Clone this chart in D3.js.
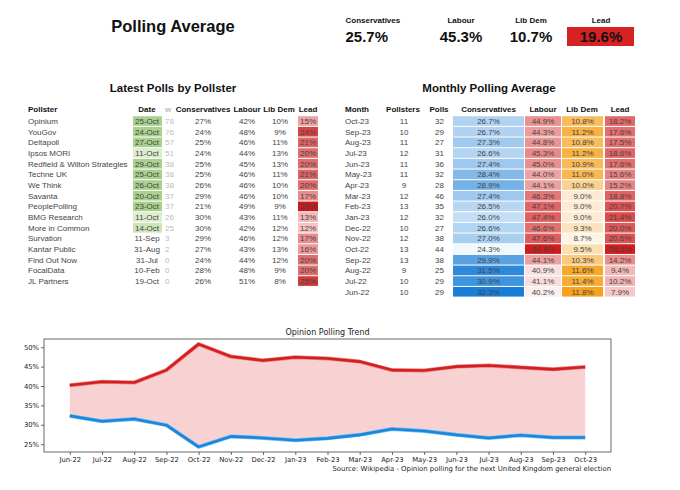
<!DOCTYPE html>
<html><head><meta charset="utf-8">
<script src="https://cdn.jsdelivr.net/npm/d3@7"></script>
<style>
body{margin:0;background:#fff;}
svg{display:block;}
.t{font-family:"Liberation Sans",Arial,sans-serif;}
.m{font-family:"DejaVu Sans",sans-serif;}
</style></head><body>
<svg id="c" width="680" height="490"></svg>
<script>
// ---- headline averages ----
const headLabels = ["Conservatives","Labour","Lib Dem","Lead"];
const headValues = [25.7,45.3,10.7,19.6];

// ---- latest polls by pollster ----
const pollsters = ["Opinium","YouGov","Deltapoll","Ipsos MORI","Redfield & Wilton Strategies","Techne UK","We Think","Savanta","PeoplePolling","BMG Research","More in Common","Survation","Kantar Public","Find Out Now","FocalData","JL Partners"];
const pollDates = ["25-Oct","24-Oct","27-Oct","11-Oct","29-Oct","25-Oct","26-Oct","20-Oct","23-Oct","11-Oct","14-Oct","11-Sep","31-Aug","31-Jul","10-Feb","19-Oct"];
const pollWeights = [78,76,57,51,38,38,38,37,37,26,25,3,2,0,0,0];
const pollCon = [27,24,25,24,25,25,26,29,21,30,30,29,27,24,28,26];
const pollLab = [42,48,46,44,45,46,46,46,49,43,42,46,43,44,48,51];
const pollLD = [10,9,11,13,13,11,10,10,9,11,12,12,13,12,9,8];
const pollLead = [15,24,21,20,20,21,20,17,28,13,12,17,16,20,20,25];

// ---- monthly polling average ----
const months = ["Oct-23","Sep-23","Aug-23","Jul-23","Jun-23","May-23","Apr-23","Mar-23","Feb-23","Jan-23","Dec-22","Nov-22","Oct-22","Sep-22","Aug-22","Jul-22","Jun-22"];
const monPollsters = [11,10,11,12,11,11,9,12,13,12,10,12,13,13,9,10,10];
const monPolls = [32,29,27,31,36,32,28,46,35,32,27,38,44,38,25,29,29];
const monCon = [26.7,26.7,27.3,26.6,27.4,28.4,28.9,27.4,26.5,26.0,26.6,27.0,24.3,29.9,31.5,30.9,32.3];
const monLab = [44.9,44.3,44.8,45.3,45.0,44.0,44.1,46.3,47.1,47.4,46.6,47.6,50.8,44.1,40.9,41.1,40.2];
const monLD = [10.8,11.2,10.8,11.2,10.9,11.0,10.0,9.0,9.0,9.0,9.3,8.7,9.5,10.3,11.6,11.4,11.8];
const monLead = [18.2,17.6,17.5,18.6,17.6,15.6,15.2,18.8,20.7,21.4,20.0,20.6,26.5,14.2,9.4,10.2,7.9];

// ---- trend chart ----
const yTicks = [25,30,35,40,45,50];

const svg = d3.select("#c");

// Header
svg.append("text").attr("class","t").attr("x",173).attr("y",32).attr("text-anchor","middle")
  .attr("font-size",16.5).attr("font-weight","bold").attr("fill","#111").text("Polling Average");
const headCx = [367,461,531,601];
svg.append("rect").attr("x",567).attr("y",27).attr("width",67).attr("height",19).attr("fill","#d62222");
headLabels.forEach((l,i)=>{
  const anchor = i===0 ? "start" : "middle";
  const xx = i===0 ? 345.5 : headCx[i];
  svg.append("text").attr("class","t").attr("x",xx).attr("y",23)
    .attr("font-size",8).attr("font-weight","bold").attr("fill","#111").attr("text-anchor",anchor).text(l);
  svg.append("text").attr("class","t").attr("x",xx).attr("y",42)
    .attr("font-size",15).attr("font-weight","bold").attr("fill","#111").attr("text-anchor",anchor)
    .text(headValues[i].toFixed(1)+"%");
});

// Row scale
const rowY0 = 121, rowH = 10.67;
const rowsL = d3.scaleLinear().domain([0,1]).range([rowY0,rowY0+rowH]);

// Left table
svg.append("text").attr("class","t").attr("x",173).attr("y",92).attr("text-anchor","middle")
  .attr("font-size",11.5).attr("font-weight","bold").attr("fill","#111").text("Latest Polls by Pollster");
const lh = [["Pollster",28,"start"],["Date",147,"middle"],["w",168,"middle"],["Conservatives",203,"middle"],["Labour",247,"middle"],["Lib Dem",279,"middle"],["Lead",308,"middle"]];
lh.forEach(h=>svg.append("text").attr("class","t").attr("x",h[1]).attr("y",112).attr("text-anchor",h[2])
  .attr("font-size",8).attr("font-weight","bold").attr("fill",h[0]==="w"?"#bbb":"#111").text(h[0]));
const green = d3.scaleLinear().domain([11,20]).range(["#dcedcf","#a9d18e"]).clamp(true);
const leadL = d3.scaleLinear().domain([12,28]).range(["#f6c3c3","#c81a1a"]);
pollsters.forEach((p,i)=>{
  const yc = rowsL(i), yb = yc+3;
  const [day,mon] = pollDates[i].split("-");
  if (mon==="Oct" && pollWeights[i] > 5) svg.append("rect").attr("x",133).attr("y",yc-4.8).attr("width",29).attr("height",rowH-1).attr("fill",green(+day));
  svg.append("rect").attr("x",298).attr("y",yc-4.8).attr("width",20).attr("height",rowH-1).attr("fill",leadL(pollLead[i]));
  const g = svg.append("g").attr("class","t").attr("font-size",8).attr("fill","#444");
  g.append("text").attr("x",28).attr("y",yb).text(p);
  g.append("text").attr("x",147).attr("y",yb).attr("text-anchor","middle").text(pollDates[i]);
  g.append("text").attr("x",165).attr("y",yb).attr("fill","#bbb").text(pollWeights[i]);
  g.append("text").attr("x",203).attr("y",yb).attr("text-anchor","middle").text(pollCon[i]+"%");
  g.append("text").attr("x",247).attr("y",yb).attr("text-anchor","middle").text(pollLab[i]+"%");
  g.append("text").attr("x",280).attr("y",yb).attr("text-anchor","middle").text(pollLD[i]+"%");
  g.append("text").attr("x",308).attr("y",yb).attr("text-anchor","middle").text(pollLead[i]+"%");
});

// Right table
svg.append("text").attr("class","t").attr("x",489).attr("y",92).attr("text-anchor","middle")
  .attr("font-size",11.5).attr("font-weight","bold").attr("fill","#111").text("Monthly Polling Average");
const rh = [["Month",345,"start"],["Pollsters",403,"middle"],["Polls",439,"middle"],["Conservatives",488.5,"middle"],["Labour",543,"middle"],["Lib Dem",582,"middle"],["Lead",620,"middle"]];
rh.forEach(h=>svg.append("text").attr("class","t").attr("x",h[1]).attr("y",112).attr("text-anchor",h[2])
  .attr("font-size",8).attr("font-weight","bold").attr("fill","#111").text(h[0]));
const cBlue = d3.scaleLinear().domain([24.3,32.3]).range(["#f1f8fd","#1a7dd6"]);
const cRed = d3.scaleLinear().domain([40.2,50.8]).range(["#fcefef","#d01c1c"]);
const cOr = d3.scaleLinear().domain([8.7,11.8]).range(["#fdf3e6","#f7a21c"]);
const cLead = d3.scaleLinear().domain([7.9,26.5]).range(["#f6c8c8","#d01c1c"]);
const cols = [[monCon,cBlue,453,71],[monLab,cRed,525,36],[monLD,cOr,562,41],[monLead,cLead,605,30]];
months.forEach((m,i)=>{
  const yc = rowsL(i), yb = yc+3;
  cols.forEach(c=>{
    svg.append("rect").attr("x",c[2]).attr("y",yc-4.8).attr("width",c[3]).attr("height",rowH-1).attr("fill",c[1](c[0][i]));
  });
  const g = svg.append("g").attr("class","t").attr("font-size",8).attr("fill","#444");
  g.append("text").attr("x",345).attr("y",yb).text(m);
  g.append("text").attr("x",404).attr("y",yb).attr("text-anchor","middle").text(monPollsters[i]);
  g.append("text").attr("x",439.5).attr("y",yb).attr("text-anchor","middle").text(monPolls[i]);
  cols.forEach(c=>g.append("text").attr("x",c[2]+c[3]/2).attr("y",yb).attr("text-anchor","middle").text(c[0][i].toFixed(1)+"%"));
});

// Trend chart
const chrono = months.slice().reverse();
const trendCon = monCon.slice().reverse();
const trendLab = monLab.slice().reverse();
const x = d3.scaleLinear().domain([-0.8, chrono.length-1+0.8]).range([44,611]);
const y = d3.scaleLinear().domain([22.975,52.125]).range([452,339]);
const ch = svg.append("g").attr("class","m");
ch.append("text").attr("x",327.5).attr("y",335).attr("text-anchor","middle").attr("font-size",8).attr("fill","#222").text("Opinion Polling Trend");
const area = d3.area().x((d,i)=>x(i)).y0((d,i)=>y(trendCon[i])).y1((d,i)=>y(trendLab[i]));
ch.append("path").datum(chrono).attr("d",area).attr("fill","#f8d2d2");
const line = d3.line().x((d,i)=>x(i)).y(d=>y(d));
ch.append("path").datum(trendLab).attr("d",line).attr("fill","none").attr("stroke","#ef8080").attr("stroke-width",4).attr("stroke-linejoin","round");
ch.append("path").datum(trendLab).attr("d",line).attr("fill","none").attr("stroke","#d21f1f").attr("stroke-width",2.6).attr("stroke-linejoin","round");
ch.append("path").datum(trendCon).attr("d",line).attr("fill","none").attr("stroke","#6fc0f5").attr("stroke-width",4).attr("stroke-linejoin","round");
ch.append("path").datum(trendCon).attr("d",line).attr("fill","none").attr("stroke","#1b86dc").attr("stroke-width",2.6).attr("stroke-linejoin","round");
ch.append("rect").attr("x",44).attr("y",339).attr("width",567).attr("height",113).attr("fill","none").attr("stroke","#444").attr("stroke-width",0.8);
const xa = ch.append("g").attr("transform","translate(0,452)")
  .call(d3.axisBottom(x).tickValues(d3.range(chrono.length)).tickFormat(i=>chrono[i]).tickSize(3).tickPadding(2));
const ya = ch.append("g").attr("transform","translate(44,0)")
  .call(d3.axisLeft(y).tickValues(yTicks).tickFormat(d=>d+"%").tickSize(3).tickPadding(2));
[xa,ya].forEach(a=>{
  a.select(".domain").remove();
  a.selectAll("line").attr("stroke","#444").attr("stroke-width",0.8);
  a.selectAll("text").attr("font-family","DejaVu Sans").attr("font-size",6.8).attr("fill","#222");
});
ch.append("text").attr("x",611).attr("y",471).attr("text-anchor","end").attr("font-size",6.9).attr("fill","#222")
  .text("Source: Wikipedia - Opinion polling for the next United Kingdom general election");
</script>
</body></html>
